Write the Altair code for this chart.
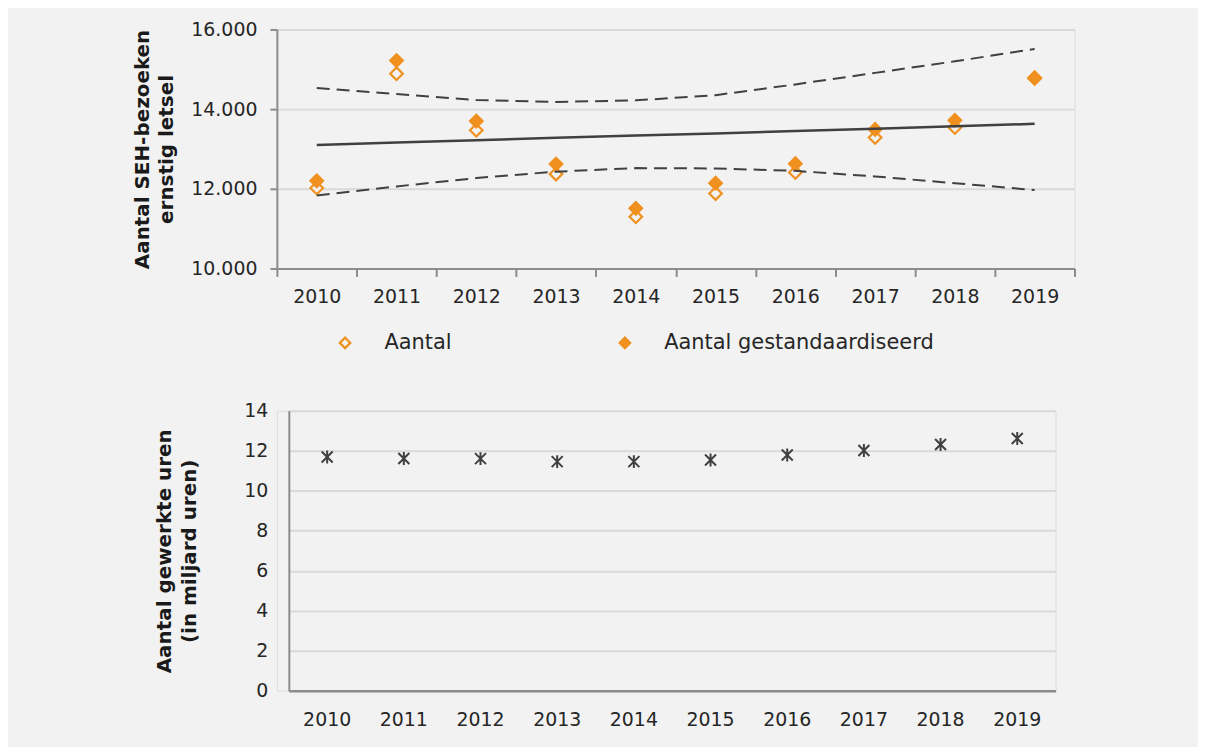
import altair as alt
import pandas as pd

years = ["2010", "2011", "2012", "2013", "2014", "2015", "2016", "2017", "2018", "2019"]
series_names = ["Aantal", "Aantal gestandaardiseerd"]
aantal = [12020, 14890, 13470, 12370, 11300, 11880, 12410, 13290, 13540, 14770]
gestandaardiseerd = [12200, 15220, 13700, 12620, 11510, 12140, 12630, 13490, 13720, 14790]
trend = [13100, 13160, 13220, 13280, 13340, 13390, 13450, 13510, 13570, 13630]
upper = [14530, 14380, 14230, 14180, 14220, 14350, 14620, 14910, 15200, 15510]
lower = [11830, 12060, 12270, 12430, 12520, 12510, 12450, 12310, 12140, 11970]
uren = [11.69, 11.62, 11.61, 11.46, 11.46, 11.54, 11.79, 12.02, 12.32, 12.62]
top_ticks = [10000, 12000, 14000, 16000]
bottom_ticks = [0, 2, 4, 6, 8, 10, 12, 14]

ORANGE = "#F0901E"
DARK = "#404040"
AXIS = "#8C8C8C"
GRID = "#D9D9D9"
BG = "#F2F2F2"
TXT = "#262626"
FONT = "DejaVu Sans"

pts = pd.DataFrame({
    "jaar": years + years,
    "reeks": [series_names[0]] * len(years) + [series_names[1]] * len(years),
    "waarde": aantal + gestandaardiseerd,
})
trend_df = pd.DataFrame({"jaar": years, "waarde": trend})
bounds_df = pd.DataFrame({
    "jaar": years + years,
    "grens": ["boven"] * len(years) + ["onder"] * len(years),
    "waarde": upper + lower,
})
uren_df = pd.DataFrame({"jaar": years, "uren": uren})

x_top = alt.X(
    "jaar:N",
    scale=alt.Scale(type="band", domain=years, paddingInner=0, paddingOuter=0),
    axis=alt.Axis(
        title=None, labelAngle=0, tickBand="extent", grid=False,
        domainColor=AXIS, domainWidth=2, tickColor=AXIS, tickWidth=2, tickSize=8,
        labelPadding=11, labelFontSize=19, labelColor=TXT, labelFont=FONT,
    ),
)
y_top = alt.Y(
    "waarde:Q",
    scale=alt.Scale(domain=[10000, 16000], nice=False, zero=False),
    axis=alt.Axis(
        values=top_ticks,
        labelExpr="replace(format(datum.value, ',.0f'), ',', '.')",
        title=["Aantal SEH-bezoeken", "ernstig letsel"],
        titleFontSize=20, titleFontWeight="bold", titleColor="#1A1A1A", titleFont=FONT,
        titleLineHeight=24, titlePadding=14,
        labelFontSize=19, labelColor=TXT, labelFont=FONT, labelPadding=13,
        tickSize=7, tickColor=AXIS, tickWidth=2, domainColor=AXIS, domainWidth=2,
        grid=True, gridColor=GRID, gridWidth=2,
    ),
)

points = alt.Chart(pts).mark_point(
    shape="diamond", size=160, stroke=ORANGE, strokeWidth=2.2, opacity=1
).encode(
    x=x_top,
    y=y_top,
    fill=alt.Fill(
        "reeks:N",
        scale=alt.Scale(domain=series_names, range=[BG, ORANGE]),
        legend=alt.Legend(
            title=None, orient="none", direction="horizontal",
            legendX=58, legendY=304, padding=0,
            symbolType="diamond", symbolSize=110, symbolStrokeColor=ORANGE,
            symbolStrokeWidth=2.2, labelOffset=29, columnPadding=163,
            labelFontSize=21, labelColor=TXT, labelFont=FONT, labelLimit=500,
        ),
    ),
    order=alt.Order("reeks:N", sort="ascending"),
)

trend_line = alt.Chart(trend_df).mark_line(color=DARK, strokeWidth=2.5).encode(
    x=alt.X("jaar:N"), y=alt.Y("waarde:Q")
)
bounds_line = alt.Chart(bounds_df).mark_line(
    color=DARK, strokeWidth=2, strokeDash=[13, 7]
).encode(
    x=alt.X("jaar:N"), y=alt.Y("waarde:Q"), detail="grens:N"
)

top = alt.layer(points, trend_line, bounds_line).properties(width=801, height=240)

bottom = alt.Chart(uren_df).mark_point(
    shape="M-0.85,-0.85L0.85,0.85M-0.85,0.85L0.85,-0.85M0,-1L0,1",
    size=169, stroke=DARK, strokeWidth=2, opacity=1, filled=False,
).encode(
    x=alt.X(
        "jaar:N",
        scale=alt.Scale(type="band", domain=years, range=[12, 782], paddingInner=0, paddingOuter=0),
        axis=alt.Axis(
            title=None, labelAngle=0, ticks=False, tickSize=0, grid=False,
            domainColor=AXIS, domainWidth=2.5, labelPadding=20,
            labelFontSize=19, labelColor=TXT, labelFont=FONT,
        ),
    ),
    y=alt.Y(
        "uren:Q",
        scale=alt.Scale(domain=[0, 14], nice=False),
        axis=alt.Axis(
            values=bottom_ticks, offset=-12,
            title=["Aantal gewerkte uren", "(in miljard uren)"],
            titleFontSize=20, titleFontWeight="bold", titleColor="#1A1A1A", titleFont=FONT,
            titleLineHeight=25, titlePadding=45,
            ticks=False, tickSize=0, labelPadding=21,
            labelFontSize=19, labelColor=TXT, labelFont=FONT,
            domainColor=AXIS, domainWidth=2,
            grid=True, gridColor=GRID, gridWidth=2,
        ),
    ),
).properties(width=782, height=281)

chart = alt.vconcat(top, bottom, spacing=94).properties(
    background=BG,
    padding={"left": 125, "right": 122, "top": 10, "bottom": 15},
).configure_view(stroke=None).configure(font=FONT)

chart.save("out.html", embed_options={"renderer": "svg", "actions": False})
